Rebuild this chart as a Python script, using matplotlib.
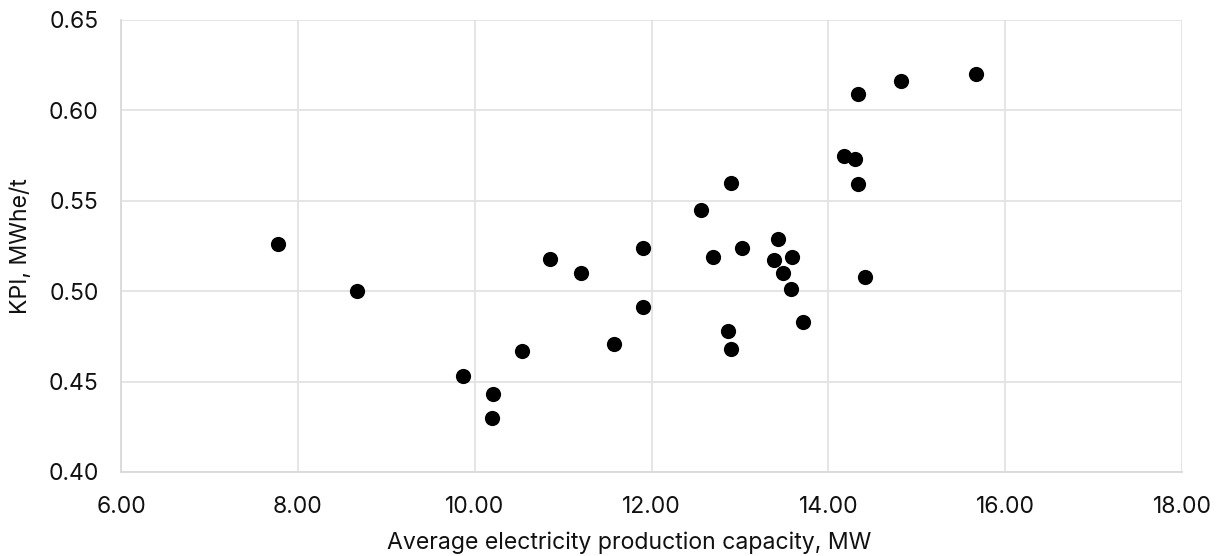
import matplotlib
matplotlib.use('Agg')
import matplotlib.pyplot as plt
from matplotlib.ticker import FormatStrFormatter

# ─── data ───
capacity_mw = [7.78, 8.67, 9.87, 10.21, 10.19, 10.54, 10.85, 11.20, 11.58, 11.90,
               11.90, 12.56, 12.90, 12.69, 13.02, 12.86, 12.90, 13.43, 13.38, 13.59,
               13.49, 13.58, 13.71, 14.34, 14.82, 15.67, 14.18, 14.30, 14.34, 14.41]
kpi_mwhe_t = [0.526, 0.500, 0.453, 0.443, 0.430, 0.467, 0.518, 0.510, 0.471, 0.524,
              0.491, 0.545, 0.560, 0.519, 0.524, 0.478, 0.468, 0.529, 0.517, 0.519,
              0.510, 0.501, 0.483, 0.609, 0.616, 0.620, 0.575, 0.573, 0.559, 0.508]

x_ticks = [6, 8, 10, 12, 14, 16, 18]
y_ticks = [0.40, 0.45, 0.50, 0.55, 0.60, 0.65]

plt.rcParams['font.family'] = ['Inter', 'DejaVu Sans']

fig = plt.figure(figsize=(12.2, 5.56), dpi=100)
ax = fig.add_axes([0.0992, 0.1511, 0.8697, 0.813])

ax.scatter(capacity_mw, kpi_mwhe_t, s=120, color='black', zorder=3, linewidths=0)

ax.set_xlim(6, 18); ax.set_ylim(0.40, 0.65)
ax.set_xticks(x_ticks); ax.set_yticks(y_ticks)
ax.xaxis.set_major_formatter(FormatStrFormatter('%.2f'))
ax.yaxis.set_major_formatter(FormatStrFormatter('%.2f'))
ax.tick_params(length=0, labelsize=16.5, colors='#111111')
ax.tick_params(axis='x', pad=17)
ax.tick_params(axis='y', pad=16)
ax.grid(True, color='#e3e3e3', linewidth=1.3, zorder=0)
for s in ax.spines.values():
    s.set_visible(False)
ax.spines['left'].set_visible(True); ax.spines['left'].set_color('#d9d9d9')
ax.spines['bottom'].set_visible(True); ax.spines['bottom'].set_color('#d9d9d9')
ax.spines['left'].set_linewidth(1.3); ax.spines['bottom'].set_linewidth(1.3)

ax.set_xlabel('Average electricity production capacity, MW', fontsize=16.6, labelpad=10, color='#111111')
ax.xaxis.label.set_x(0.479)
ax.set_ylabel('KPI, MWhe/t', fontsize=16.6, labelpad=12, color='#111111')

fig.savefig('out.png', dpi=100)
